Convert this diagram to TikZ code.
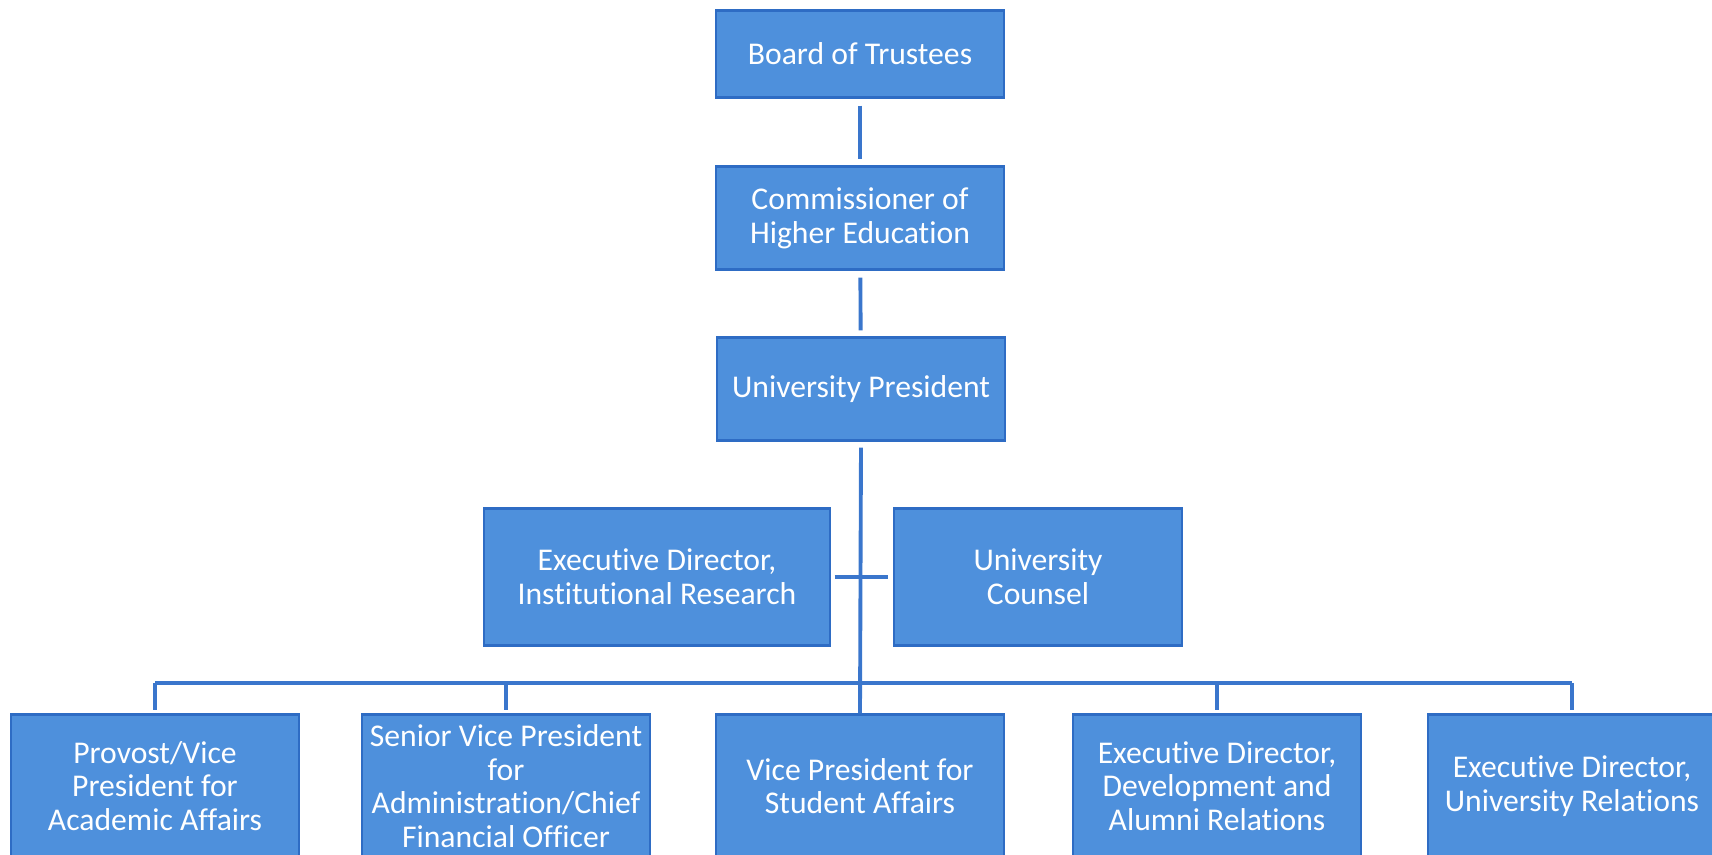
\documentclass[tikz,border=0pt]{standalone}
\usepackage{fontspec}
\setmainfont{Carlito}[Ligatures=NoCommon]
\usetikzlibrary{calc}
\definecolor{boxfill}{RGB}{78,144,220}
\definecolor{boxline}{RGB}{46,108,196}
\definecolor{linkcol}{RGB}{58,118,204}

\begin{document}
\begin{tikzpicture}[x=0.01cm,y=-0.01cm,
    box/.style={draw=boxline,line width=0.6pt,fill=boxfill,text=white,align=center,
      inner sep=0pt,minimum width=2.87cm,minimum height=1.03cm,
      font=\fontsize{9}{9.6}\selectfont},
    conn/.style={draw=linkcol,line width=1.1pt}]
          \useasboundingbox (0,0) rectangle (1712,854);
          \clip (0,0) rectangle (1712,854);
          \node[box,minimum height=0.87cm] (board) at (860,54) {Board of Trustees};
          \node[box] (commish) at (860,218) {Commissioner of\\Higher Education};
          \node[box] (president) at (861,389) {University President};
          \node[box,minimum width=3.45cm,minimum height=1.37cm] (instres) at (657,577) {Executive Director,\\Institutional Research};
          \node[box,minimum height=1.37cm] (counsel) at (1038,577) {University\\Counsel};
          \node[box,minimum height=1.43cm] (provost) at (155,786) {Provost/Vice\\President for\\Academic Affairs};
          \node[box,minimum height=1.43cm] (svpadmin) at (506,786) {Senior Vice President\\for\\Administration/Chief\\Financial Officer};
          \node[box,minimum height=1.43cm] (vpstudent) at (860,786) {Vice President for\\Student Affairs};
          \node[box,minimum height=1.43cm] (eddev) at (1217,786) {Executive Director,\\Development and\\Alumni Relations};
          \node[box,minimum height=1.43cm] (edrel) at (1572,786) {Executive Director,\\University Relations};
          \coordinate (bus) at (862,683);
          \draw[conn,shorten >=0.06cm,shorten <=0.07cm] (board) -- (commish);
          \draw[conn,shorten >=0.06cm,shorten <=0.07cm] (commish) -- (president);
          \draw[conn,shorten <=0.06cm] (president.south) -- (vpstudent.north);
          \draw[conn,shorten >=0.05cm,shorten <=0.04cm] (instres.east) -- (counsel.west);
          \draw[conn] (provost.north |- bus) -- (edrel.north |- bus);
          \foreach \n in {provost,svpadmin,eddev,edrel}
            \draw[conn,shorten >=0.03cm] (\n.north |- bus) -- (\n.north);
        \end{tikzpicture}
\end{document}
